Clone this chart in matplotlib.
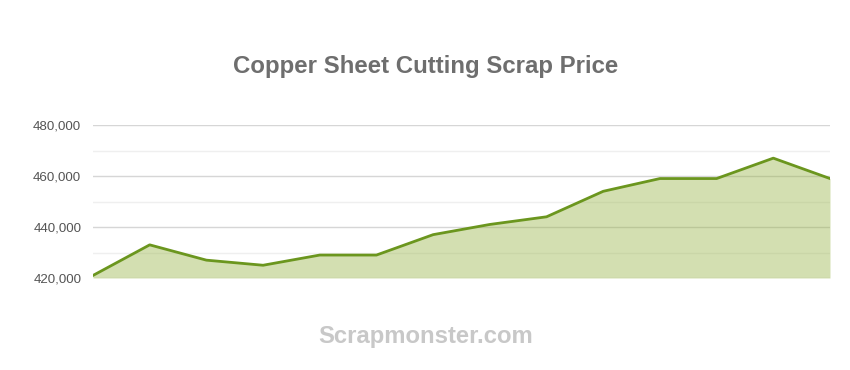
import matplotlib
matplotlib.use('Agg')
import matplotlib.pyplot as plt
from matplotlib.ticker import FuncFormatter, MultipleLocator

# --- Data ---
periods = list(range(14))
prices = [421000, 433000, 427000, 425000, 429000, 429000, 437000,
          441000, 444000, 454000, 459000, 459000, 467000, 459000]
y_ticks = [420000, 440000, 460000, 480000]

LINE = '#6b961e'
FILL = '#93b13e'

plt.rcParams['font.family'] = ['Liberation Sans', 'DejaVu Sans']

fig = plt.figure(figsize=(8.5, 3.7), dpi=100)
ax = fig.add_axes([93 / 850, 1 - 278 / 370, (830 - 93) / 850, 153 / 370])

ax.fill_between(periods, prices, 420000, color=FILL, alpha=0.4, linewidth=0, zorder=2)
ax.plot(periods, prices, color=LINE, linewidth=2, zorder=3)

ax.set_xlim(periods[0], periods[-1])
ax.set_ylim(420000, 480000)
ax.set_yticks(y_ticks)
ax.yaxis.set_minor_locator(MultipleLocator(10000))
ax.yaxis.set_major_formatter(FuncFormatter(lambda v, p: f'{int(v):,}'))
ax.set_axisbelow(True)
ax.grid(axis='y', which='major', color='#d6d6d6', linewidth=1)
ax.grid(axis='y', which='minor', color='#efefef', linewidth=1)
ax.tick_params(axis='y', which='both', length=0, pad=8.5, labelsize=9.6, labelcolor='#555555')
ax.set_xticks([])
for s in ax.spines.values():
    s.set_visible(False)

fig.text(426 / 850, 1 - 66 / 370, 'Copper Sheet Cutting Scrap Price', ha='center', va='center',
         fontsize=17.3, fontweight='bold', color='#6e6e6e')
fig.text(426 / 850, 1 - 336 / 370, 'Scrapmonster.com', ha='center', va='center',
         fontsize=17.2, fontweight='bold', color='#c8c8c8')

fig.savefig('out.png', dpi=100, facecolor='white')
